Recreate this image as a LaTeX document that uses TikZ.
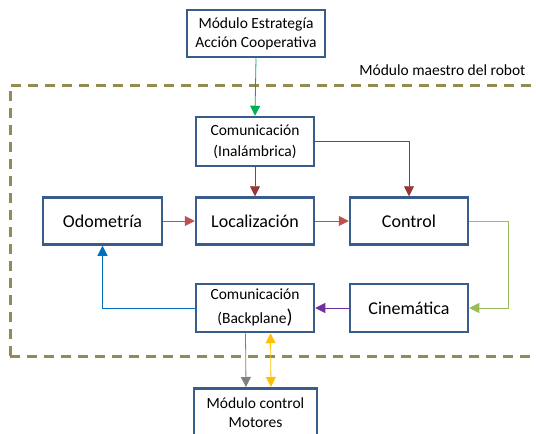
\documentclass[tikz,border=0pt]{standalone}
\usepackage{fontspec}
\setmainfont{Carlito}
\usetikzlibrary{arrows.meta}
\definecolor{boxblue}{HTML}{385D8A}
\definecolor{tan}{HTML}{948A54}
\definecolor{redA}{HTML}{C0504D}
\definecolor{redB}{HTML}{953735}
\definecolor{greenA}{HTML}{00B050}
\definecolor{greenB}{HTML}{9BBB59}
\definecolor{purpleA}{HTML}{7030A0}
\definecolor{blueA}{HTML}{0070C0}
\definecolor{grayA}{HTML}{7F7F7F}
\definecolor{yellowA}{HTML}{FFC000}
\newcommand*{\smalltxt}{\fontsize{15.5}{19}\selectfont}
\newcommand*{\bigtxt}{\fontsize{18}{20}\selectfont}

\begin{document}
\begin{tikzpicture}[x=1pt, y=-1pt,
  blk/.style={draw=boxblue, line width=2.5pt, fill=white, align=center,
    inner sep=0pt, minimum width=118pt, minimum height=47pt},
  tip/.style={-{Triangle[length=10pt, width=10pt]}, line width=0.8pt},
  tips/.style={{Triangle[length=10pt, width=10pt]}-{Triangle[length=10pt, width=10pt]}, line width=0.8pt}]

\useasboundingbox (0,0) rectangle (536,434);

% module frame
\draw[tan, line width=3pt, dash pattern=on 10pt off 7pt] (10,356) |- (570,85);
\draw[tan, line width=3pt, dash pattern=on 10pt off 7pt] (10,356) -- (570,356);
\node[anchor=east, font=\smalltxt] (maestro) at (529,70) {Módulo maestro del robot};

\node[blk, minimum width=138pt, font=\smalltxt] (estrategia) at (256,33.5) {Módulo Estrategía\\Acción Cooperativa};
\node[blk, minimum height=49pt, font=\fontsize{15.5}{21}\selectfont] (inalam) at (255,141.5) {Comunicación\\(Inalámbrica)};
\node[blk, minimum width=119pt, font=\bigtxt] (odom) at (102.5,221) {Odometría};
\node[blk, font=\bigtxt] (local) at (255,221) {Localización};
\node[blk, font=\bigtxt] (control) at (409,221) {Control};
\node[blk, minimum height=48pt, font=\fontsize{15.5}{24}\selectfont] (backpl) at (255,308) {Comunicación\\(Backplane{\fontsize{20}{20}\selectfont)}};
\node[blk, minimum height=48pt, font=\bigtxt] (cinem) at (409,308) {Cinemática};
\node[blk, minimum width=123pt, minimum height=49pt, font=\smalltxt, anchor=north] (motores) at (255.5,387) {Módulo control\\Motores};

% connectors
\draw[tip, greenA] (estrategia.south) -- (inalam.north);
\draw[tip, redB] (inalam.south) -- (local.north);
\draw[tip, redB] (inalam.east) -| (control.north);
\draw[tip, redA] (odom.east) -- (local.west);
\draw[tip, redA] (local.east) -- (control.west);
\draw[tip, greenB] (control.east) -- ++(39,0) |- (cinem.east);
\draw[tip, purpleA] (cinem.west) -- (backpl.east);
\draw[tip, blueA] (backpl.west) -| (odom.south);
\draw[tip, grayA] ([xshift=-9.5pt]backpl.south) -- ([xshift=-9.5pt]motores.north);
\draw[tips, yellowA] ([xshift=15.5pt]backpl.south) -- ([xshift=15.5pt]motores.north);
\end{tikzpicture}
\end{document}
